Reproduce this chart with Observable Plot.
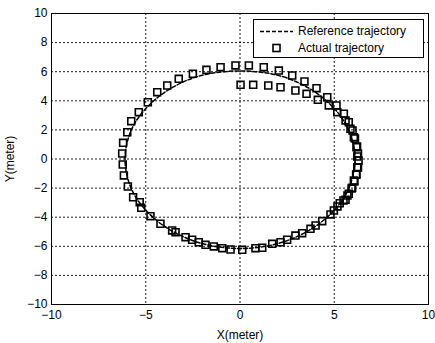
<!DOCTYPE html>
<html>
<head>
<meta charset="utf-8">
<script src="https://cdn.jsdelivr.net/npm/d3@7"></script>
<script src="https://cdn.jsdelivr.net/npm/@observablehq/plot@0.6"></script>
<style>
  html, body { margin: 0; padding: 0; background: #fff; }
  #wrap { position: relative; width: 435px; height: 343px; font-family: "Liberation Sans", Arial, sans-serif; }
  #legend { position: absolute; left: 253px; top: 19px; width: 169px; height: 37px; border: 1px solid #000; background: #fff; font-size: 12px; color: #000; }
  #legend .row { position: absolute; left: 0; height: 16px; line-height: 16px; white-space: nowrap; }
  #legend svg { position: absolute; left: 0; top: 0; }
  #legend span { position: absolute; left: 44px; }
</style>
</head>
<body>
<div id="wrap">
  <div id="chart"></div>
  <div id="legend">
    <div class="row" style="top:3px;"><svg width="44" height="16"><line x1="6" x2="39" y1="8.5" y2="8.5" stroke="#000" stroke-width="1.5" stroke-dasharray="4,2"/></svg><span>Reference trajectory</span></div>
    <div class="row" style="top:20px;"><svg width="44" height="16"><rect x="19" y="4.5" width="7" height="7" fill="none" stroke="#000" stroke-width="1.6"/></svg><span>Actual trajectory</span></div>
  </div>
</div>
<script>
// Reference trajectory
const refX = [0, 2.3, 4.3, 5.65, 6.1, 5.65, 4.3, 2.3, 0, -2.3, -4.3, -5.65, -6.1, -5.65, -4.3, -2.3];
const refY = [6.05, 5.65, 4.3, 2.3, 0, -2.35, -4.35, -5.7, -6.15, -5.7, -4.35, -2.35, 0, 2.3, 4.3, 5.65];

// Actual trajectory
const actualX = [0.03, 0.70, 1.50, 2.15, 2.94, 3.53, 4.13, 4.71, 5.16, 5.60, 5.86, 6.04, 6.18, 6.22, 6.22, 6.16, 6.04, 5.95, 5.77, 5.60, 5.29, 4.98, 4.80, 4.36, 4.01, 3.74, 3.30, 2.94, 2.50, 2.15, 1.71, 1.18, 0.82, 0.12, -0.50, -0.94, -1.39, -1.83, -2.19, -2.54, -2.89, -3.42, -3.60, -4.22, -4.75, -5.24, -5.32, -5.67, -5.95, -6.16, -6.22, -6.25, -6.20, -5.98, -5.77, -5.37, -4.89, -4.39, -3.86, -3.25, -2.50, -1.78, -1.03, -0.24, 0.47, 1.26, 2.06, 2.77, 3.42, 4.06, 4.63, 5.12, 5.51, 5.77, 5.97, 6.10, 6.21, 6.26, 6.29, 6.26, 6.18, 6.07, 5.92, 5.70, 5.49, 5.17];
const actualY = [5.10, 5.10, 5.05, 4.93, 4.71, 4.48, 4.07, 3.68, 3.22, 2.65, 2.08, 1.50, 0.81, 0.17, -0.56, -1.07, -1.48, -1.98, -2.39, -2.80, -3.04, -3.54, -3.81, -4.27, -4.57, -4.80, -5.10, -5.26, -5.55, -5.72, -5.83, -6.10, -6.13, -6.24, -6.22, -6.13, -6.01, -5.90, -5.72, -5.55, -5.37, -5.03, -4.91, -4.45, -3.93, -3.35, -2.97, -2.63, -1.89, -1.13, -0.38, 0.38, 1.11, 1.84, 2.60, 3.22, 3.90, 4.59, 5.05, 5.51, 5.86, 6.13, 6.31, 6.43, 6.43, 6.31, 6.08, 5.74, 5.33, 4.87, 4.25, 3.68, 3.11, 2.53, 1.96, 1.41, 0.86, 0.38, -0.10, -0.58, -1.07, -1.55, -2.03, -2.51, -2.85, -3.26];

const xTicks = [-10, -5, 0, 5, 10];
const yTicks = [-10, -8, -6, -4, -2, 0, 2, 4, 6, 8, 10];
const xGrid = [-5, 0, 5];
const yGrid = [-8, -6, -4, -2, 0, 2, 4, 6, 8];

const ref = refX.map((x, i) => ({x, y: refY[i]}));
const actual = actualX.map((x, i) => ({x, y: actualY[i]}));

const chart = Plot.plot({
  width: 435,
  height: 343,
  marginTop: 13,
  marginBottom: 39,
  marginLeft: 51,
  marginRight: 7,
  style: {fontFamily: "'Liberation Sans', Arial, sans-serif", fontSize: "12px", background: "#fff", color: "#000"},
  x: {domain: [-10, 10], ticks: xTicks},
  y: {domain: [-10, 10], ticks: yTicks},
  marks: [
    Plot.gridX(xGrid, {stroke: "#000", strokeOpacity: 1, strokeWidth: 0.9, strokeDasharray: "2,2"}),
    Plot.gridY(yGrid, {stroke: "#000", strokeOpacity: 1, strokeWidth: 0.9, strokeDasharray: "2,2"}),
    Plot.line(ref, {x: "x", y: "y", curve: "catmull-rom-closed", stroke: "#000", strokeWidth: 1.5, strokeDasharray: "4,2"}),
    Plot.dot(actual, {x: "x", y: "y", symbol: "square", r: 3.9, stroke: "#000", strokeWidth: 1.6, fill: "none"}),
    Plot.frame({stroke: "#000", strokeWidth: 1}),
    Plot.axisX(xTicks, {tickSize: 0, tickPadding: 6, fontSize: 12, label: "X(meter)", labelAnchor: "center", labelArrow: "none", labelOffset: 34}),
    Plot.axisY(yTicks, {tickSize: 0, tickPadding: 4, fontSize: 12, label: "Y(meter)", labelAnchor: "center", labelArrow: "none", labelOffset: 46})
  ]
});
document.getElementById("chart").appendChild(chart);
</script>
</body>
</html>
